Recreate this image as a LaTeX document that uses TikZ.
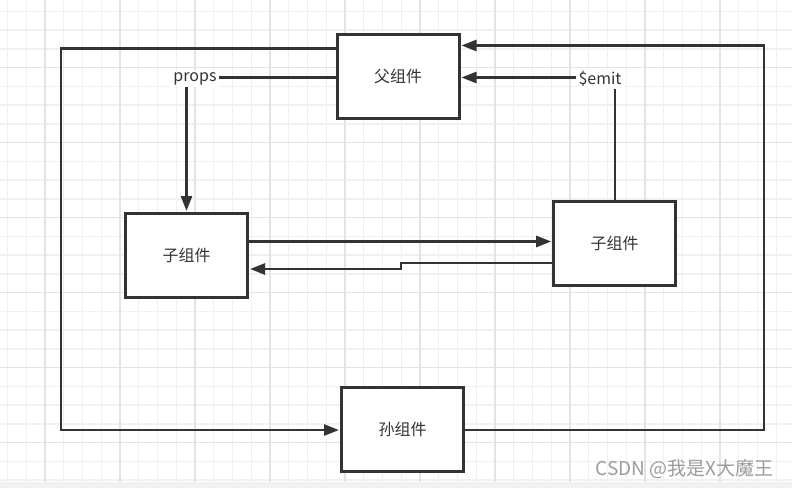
\documentclass[tikz,border=0pt]{standalone}
\usepackage{fontspec}
\setmainfont{Noto Sans CJK SC}
\usetikzlibrary{arrows.meta}
\definecolor{ink}{HTML}{333333}
\definecolor{gridminor}{HTML}{F0F0F0}
\definecolor{gridmajor}{HTML}{E3E3E3}
\definecolor{band}{HTML}{F1F1F1}
\definecolor{wm}{HTML}{9C9C9C}
\begin{document}
\begin{tikzpicture}[x=1pt,y=-1pt,
  box/.style={draw=ink, line width=3pt, fill=white, minimum width=122pt, minimum height=84pt,
    inner sep=0pt, text=ink, font=\fontsize{16}{19}\selectfont},
  lbl/.style={fill=white, inner sep=2pt, text=ink, font=\fontsize{16}{19}\selectfont},
  conn/.style={draw=ink, line width=2.6pt},
  thinconn/.style={draw=ink, line width=2pt},
  tip/.style={-{Triangle[length=15pt,width=11pt]}, shorten >=1pt}]
\useasboundingbox (0,0) rectangle (792,488);
\fill[white] (0,0) rectangle (792,488);
% grid
\begin{scope}
\clip (0,0) rectangle (792,482);
\foreach \x in {7.5,26.25,...,792} \draw[gridminor, line width=1.2pt] (\x,0) -- (\x,482);
\foreach \y in {11.45,30.2,...,482} \draw[gridminor, line width=1.5pt] (0,\y) -- (792,\y);
\foreach \x in {45,120,...,792} \draw[gridmajor, line width=1.2pt] (\x,0) -- (\x,482);
\foreach \y in {-7.3,67.7,...,482} \draw[gridmajor, line width=1.5pt] (0,\y) -- (792,\y);
\end{scope}
\fill[band] (0,482) rectangle (792,488);

% boxes
\node[box] (parent) at (398,76.5) {父组件};
\node[box] (lc) at (186.5,255.5) {子组件};
\node[box] (rc) at (614.7,243.3) {子组件};
\node[box] (grand) at (402.5,429.5) {孙组件};

% labels
\node[lbl] (props) at (195,79) {props};
\node[lbl] (emit) at (600,79) {\$emit};

% helper coordinates
\coordinate (hTop) at (0,48.5);
\coordinate (hLbl) at (0,77.5);
\coordinate (cL) at (61,430);
\coordinate (cR) at (764,45.5);
\coordinate (hMid) at (0,241.5);
\coordinate (s1) at (401,263);
\coordinate (s2) at (401,269);

% connectors
\draw[conn, tip] (parent.west |- hTop) -| (cL) -- (grand.west |- cL);
\draw[conn] (parent.west |- hLbl) -- (props.east |- hLbl);
\draw[conn, tip] (props.south -| lc.north) -- (lc.north);
\draw[conn, tip] (emit.west |- hLbl) -- (parent.east |- hLbl);
\draw[thinconn] (rc.north) -- (rc.north |- emit.south);
\draw[conn, tip] (grand.east |- cL) -| (cR) -- (parent.east |- cR);
\draw[conn, tip] (lc.east |- hMid) -- (rc.west |- hMid);
\draw[conn, tip] (rc.west |- s1) -- (s1) -- (s2) -- (lc.east |- s2);

% watermark
\node[text=wm, font=\fontsize{19}{22}\selectfont, anchor=east] (wmark) at (777,469) {CSDN @我是X大魔王};
\end{tikzpicture}
\end{document}
